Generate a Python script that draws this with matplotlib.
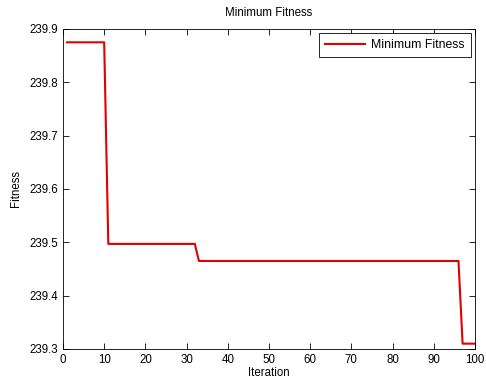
import numpy as np
import matplotlib.pyplot as plt

plt.rcParams['font.family'] = ['Liberation Sans', 'DejaVu Sans']

# minimum fitness per iteration
iteration = [1, 10, 11, 32, 33, 96, 97, 100]
min_fitness = [239.875, 239.875, 239.497, 239.497, 239.465, 239.465, 239.31, 239.31]

fig = plt.figure(figsize=(4.86, 3.86), dpi=100)
ax = fig.add_axes([0.1296, 0.0959, 0.8477, 0.829])

ax.plot(iteration, min_fitness, color='#e00000', linewidth=1.5, label='Minimum Fitness')

ax.set_xlim(0, 100)
ax.set_ylim(239.3, 239.9)
ax.set_xticks(np.arange(0, 101, 10))
ax.set_yticks(np.arange(239.3, 239.91, 0.1))
ax.set_yticklabels(['239.3', '239.4', '239.5', '239.6', '239.7', '239.8', '239.9'])
ax.tick_params(direction='in', top=True, right=True, labelsize=8.3, length=4, width=0.6)
for s in ax.spines.values():
    s.set_linewidth(0.6)

ax.set_title('Minimum Fitness', fontsize=8.3, pad=9)
ax.set_xlabel('Iteration', fontsize=8.3, labelpad=1)
ax.set_ylabel('Fitness', fontsize=8.3, labelpad=5)

leg = ax.legend(loc='upper right', fontsize=8.8, fancybox=False, framealpha=1,
                edgecolor='black', borderaxespad=0.35, handlelength=3.3,
                handletextpad=0.5, borderpad=0.5)
leg.get_frame().set_linewidth(0.6)

fig.savefig('out.png', dpi=100)
